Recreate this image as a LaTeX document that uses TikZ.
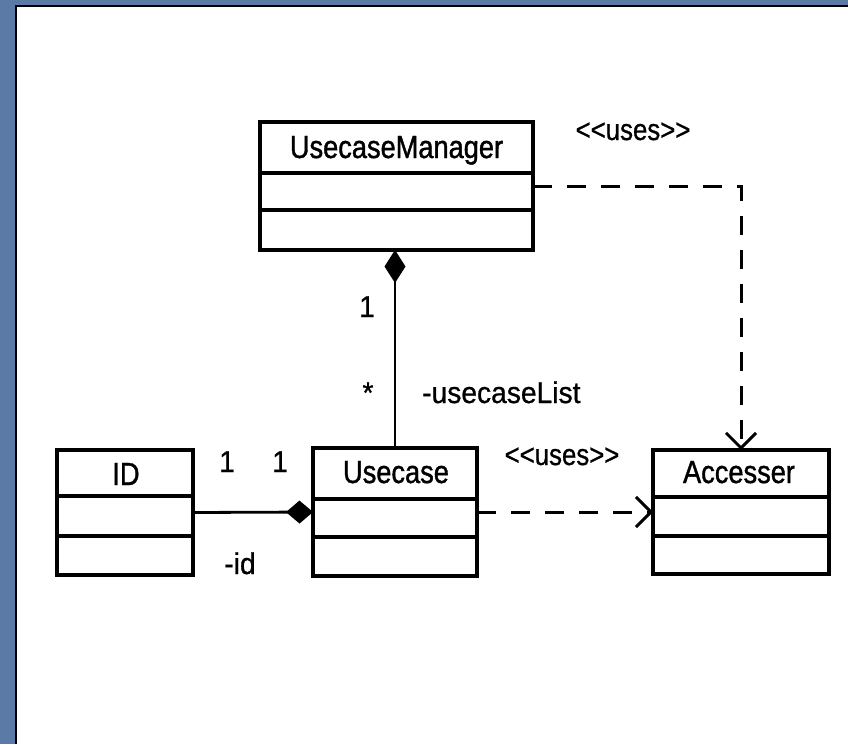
\documentclass[tikz,border=0pt]{standalone}
\usepackage{fontspec}
\setmainfont{Liberation Sans}
\newfontfamily\clsfont[FakeStretch=0.85,FakeBold=1.2]{Liberation Sans}
\newfontfamily\stfont[FakeStretch=0.86,FakeBold=0.8]{Liberation Sans}
\newfontfamily\lblfont[FakeStretch=0.94,FakeBold=0.8]{Liberation Sans}
\usetikzlibrary{arrows.meta}
\definecolor{bgblue}{HTML}{5B7BA6}
\tikzset{
  cbox/.style={draw, line width=3.4pt, inner sep=0pt, outer sep=0pt},
  divline/.style={line width=3.4pt},
  clsname/.style={anchor=base, inner sep=0pt, font=\clsfont\fontsize{32pt}{37pt}\selectfont},
  lbl/.style={anchor=base, inner sep=0pt, font=\lblfont\fontsize{30pt}{35pt}\selectfont},
  stlbl/.style={anchor=base, inner sep=0pt, font=\stfont\fontsize{30pt}{35pt}\selectfont},
  conn/.style={line width=2.8pt},
  dep/.style={line width=3pt, dash pattern=on 19pt off 15pt, -{Straight Barb[length=15pt,width=30pt]}}
}
\begin{document}
\begin{tikzpicture}[x=1pt,y=-1pt]
\useasboundingbox (0,0) rectangle (848,744);
\fill[bgblue] (0,0) rectangle (848,744);
\fill[white] (16,6) rectangle (848,744);
\draw[line width=2pt] (16,744) -- (16,6) -- (848,6);

% UsecaseManager
\node[cbox, minimum width=273pt, minimum height=128pt] (UM) at (396.5,186) {};
\draw[divline] (UM.west |- 0,173) -- (UM.east |- 0,173);
\draw[divline] (UM.west |- 0,210) -- (UM.east |- 0,210);
\node[clsname] (UMn) at (396.5,158) {UsecaseManager};

% ID
\node[cbox, minimum width=136pt, minimum height=125pt] (ID) at (125,512.5) {};
\draw[divline] (ID.west |- 0,496) -- (ID.east |- 0,496);
\draw[divline] (ID.west |- 0,536) -- (ID.east |- 0,536);
\node[clsname] (IDn) at (126,485) {ID};

% Usecase
\node[cbox, minimum width=164pt, minimum height=128pt] (UC) at (395,512) {};
\draw[divline] (UC.west |- 0,499) -- (UC.east |- 0,499);
\draw[divline] (UC.west |- 0,537) -- (UC.east |- 0,537);
\node[clsname] (UCn) at (396,483) {Usecase};

% Accesser
\node[cbox, minimum width=176pt, minimum height=124pt] (AC) at (741,512) {};
\draw[divline] (AC.west |- 0,497) -- (AC.east |- 0,497);
\draw[divline] (AC.west |- 0,536) -- (AC.east |- 0,536);
\node[clsname] (ACn) at (739,483) {Accesser};

% connectors
\draw[conn, -{Diamond[length=33pt,width=21pt]}] (UC.north) -- (UC.north |- UM.south);
\draw[conn, -{Diamond[length=27pt,width=23pt]}] (ID.east) -- (UC.west);
\draw[dep] (UM.east) -| (AC.north);
\draw[dep] (UC.east) -- (AC.west);

% labels
\node[lbl] (m1) at (227,472) {1};
\node[lbl] (m2) at (280,472) {1};
\node[lbl] (rid) at (240,574) {-id};
\node[lbl] (m3) at (367,317) {1};
\node[lbl] (m4) at (368,403) {*};
\node[lbl, anchor=base west] (rlist) at (422,403) {-usecaseList};
\node[stlbl] (st1) at (633,140) {{<}{<}uses{>}{>}};
\node[stlbl] (st2) at (562,465) {{<}{<}uses{>}{>}};
\end{tikzpicture}
\end{document}
